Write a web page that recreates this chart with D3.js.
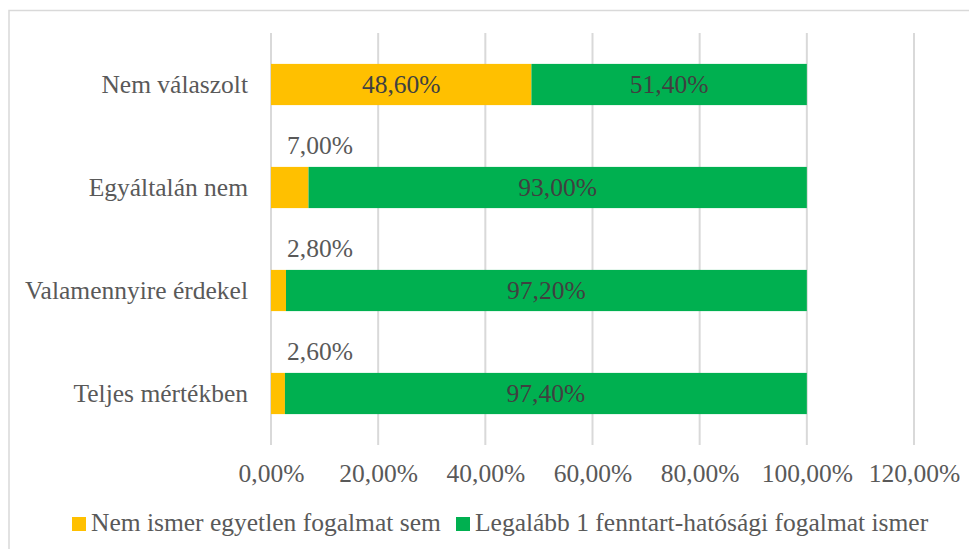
<!DOCTYPE html>
<html><head><meta charset="utf-8">
<script src="https://cdn.jsdelivr.net/npm/d3@7"></script>
<style>body{margin:0;background:#fff}svg{display:block}svg text{font-family:"Liberation Serif","Times New Roman",Tinos,Times,serif !important}</style>
</head><body>
<script>
const categories = ["Nem válaszolt","Egyáltalán nem","Valamennyire érdekel","Teljes mértékben"];
const seriesNames = ["Nem ismer egyetlen fogalmat sem","Legalább 1 fenntart-hatósági fogalmat ismer"];
const notKnown = [48.6, 7.0, 2.8, 2.6];
const known = [51.4, 93.0, 97.2, 97.4];
const tickValues = [0,20,40,60,80,100,120];
const colors = ["#FFC000","#00B050"];

const W=969,H=549,FS=25.5;
const FF='"Liberation Serif","Times New Roman",Tinos,Times,serif';
const svg=d3.select("body").append("svg").attr("width",W).attr("height",H).attr("font-family",FF);
// frame
svg.append("path").attr("d",`M9,${H+2}V10.5H${W+2}`).attr("fill","none").attr("stroke","#d9d9d9").attr("stroke-width",1.5);

const x=d3.scaleLinear().domain([0,120]).range([271,914]);
const y=d3.scaleBand().domain(categories).range([33,445]).paddingInner(0.6).paddingOuter(0.3);
const fmt=v=>v.toFixed(2).replace(".",",")+"%";

// gridlines
svg.append("g").selectAll("line").data(tickValues).join("line")
  .attr("x1",d=>x(d)).attr("x2",d=>x(d)).attr("y1",33).attr("y2",445)
  .attr("stroke","#d9d9d9").attr("stroke-width",2);

// axis labels
const ax=svg.append("g").attr("transform","translate(0,482)")
  .call(d3.axisBottom(x).tickValues(tickValues).tickSize(0).tickFormat(fmt));
ax.attr("font-family",FF).attr("font-size",FS);
ax.select(".domain").remove();
ax.selectAll("text").attr("dy",0).attr("y",0).attr("fill","#595959");

// category labels
const ay=svg.append("g").attr("transform",`translate(${x(0)},0)`)
  .call(d3.axisLeft(y).tickSize(0).tickPadding(23));
ay.attr("font-family",FF).attr("font-size",FS);
ay.select(".domain").remove();
ay.selectAll("text").attr("dy","0.32em").attr("fill","#595959");

const rows=categories.map((c,i)=>({c,a:notKnown[i],b:known[i]}));
const g=svg.append("g").attr("font-size",FS);
g.selectAll("rect.a").data(rows).join("rect").attr("class","a")
  .attr("x",x(0)).attr("y",d=>y(d.c)).attr("width",d=>x(d.a)-x(0)).attr("height",y.bandwidth()).attr("fill",colors[0]);
g.selectAll("rect.b").data(rows).join("rect").attr("class","b")
  .attr("x",d=>x(d.a)).attr("y",d=>y(d.c)).attr("width",d=>x(d.a+d.b)-x(d.a)).attr("height",y.bandwidth()).attr("fill",colors[1]);

// labels
g.selectAll("text.a").data(rows).join("text").attr("class","a")
  .attr("text-anchor","middle")
  .attr("x",d=>d.a>20?(x(0)+x(d.a))/2:x(0)+49)
  .attr("y",d=>d.a>20?y(d.c)+y.bandwidth()/2+8:y(d.c)-13)
  .attr("fill",d=>d.a>20?"#404040":"#595959").text(d=>fmt(d.a));
g.selectAll("text.b").data(rows).join("text").attr("class","b")
  .attr("text-anchor","middle")
  .attr("x",d=>(x(d.a)+x(d.a+d.b))/2)
  .attr("y",d=>y(d.c)+y.bandwidth()/2+8)
  .attr("fill","#404040").text(d=>fmt(d.b));

// legend
const leg=svg.append("g").attr("font-size",FS);
const lx=[72,456];
seriesNames.forEach((n,i)=>{
  leg.append("rect").attr("x",lx[i]).attr("y",517).attr("width",14).attr("height",14).attr("fill",colors[i]);
  leg.append("text").attr("x",lx[i]+19).attr("y",531).attr("fill","#595959").text(n);
});
</script>
</body></html>
